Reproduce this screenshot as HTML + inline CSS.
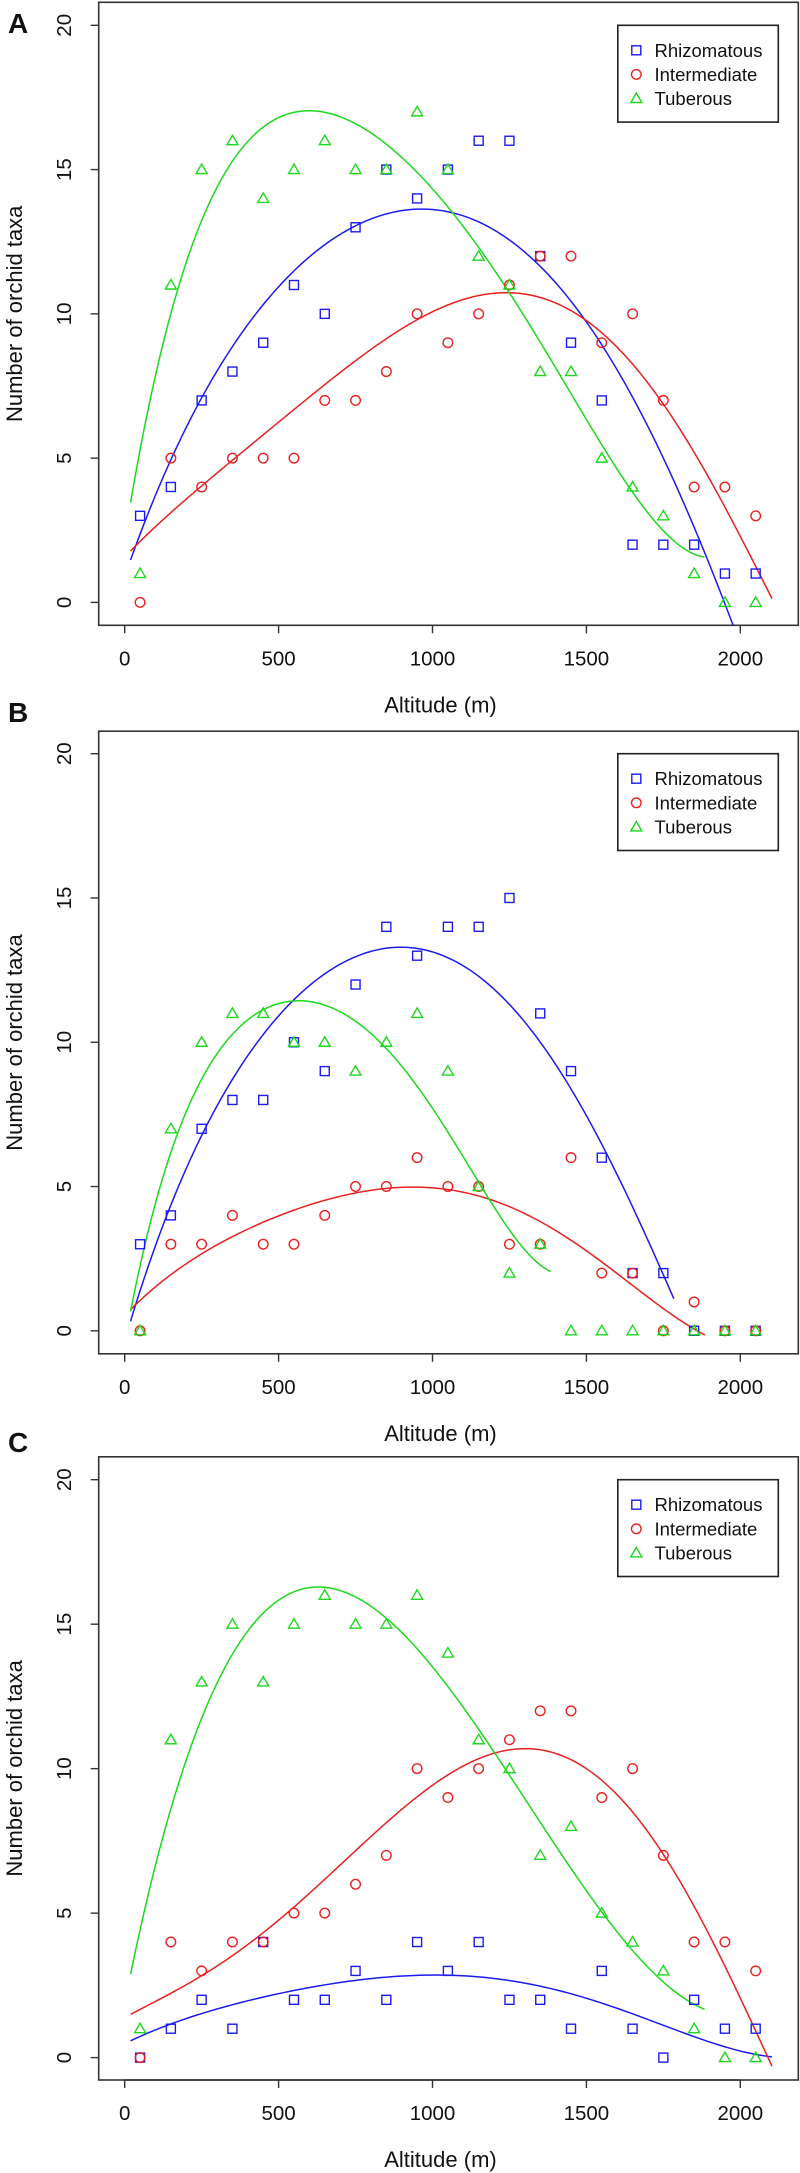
<!DOCTYPE html>
<html><head><meta charset="utf-8">
<style>
html,body{margin:0;padding:0;background:#fff;}
svg{display:block;}
text{font-family:"Liberation Sans",sans-serif;fill:#111;}
</style></head>
<body>
<svg id="fig" width="800" height="2173" viewBox="0 0 800 2173" xmlns="http://www.w3.org/2000/svg"></svg>
<script>
// ---------- data ----------
const altitudes = [50,150,250,350,450,550,650,750,850,950,1050,1150,1250,1350,1450,1550,1650,1750,1850,1950,2050];
const xTicks = [0,500,1000,1500,2000];
const yTicks = [0,5,10,15,20];
const seriesNames = ["Rhizomatous","Intermediate","Tuberous"];

const aRhiz  = [3,4,7,8,9,11,10,13,15,14,15,16,16,12,9,7,2,2,2,1,1];
const aInter = [0,5,4,5,5,5,7,7,8,10,9,10,11,12,12,9,10,7,4,4,3];
const aTub   = [1,11,15,16,14,15,16,15,15,17,15,12,11,8,8,5,4,3,1,0,0];

const bRhiz  = [3,4,7,8,8,10,9,12,14,13,14,14,15,11,9,6,2,2,0,0,0];
const bInter = [0,3,3,4,3,3,4,5,5,6,5,5,3,3,6,2,2,0,1,0,0];
const bTub   = [0,7,10,11,11,10,10,9,10,11,9,5,2,3,0,0,0,0,0,0,0];

const cRhiz  = [0,1,2,1,4,2,2,3,2,4,3,4,2,2,1,3,1,0,2,1,1];
const cInter = [0,4,3,4,4,5,5,6,7,10,9,10,11,12,12,9,10,7,4,4,3];
const cTub   = [1,11,13,15,13,15,16,15,15,16,14,11,10,7,8,5,4,3,1,0,0];

// fitted curve samples (altitude, value)
const aRhizFitX = [19,152,249,346,455,563,671,780,888,953,1024,1242,1351,1449,1552,1650,1754,1852,1982];
const aRhizFitY = [1.46,5.01,7.03,8.91,10.3,11.62,12.53,13.22,13.57,13.64,13.57,12.67,11.69,10.3,8.91,7.10,5.01,2.51,-0.95];
const aInterFitX = [19,152,249,346,455,563,671,780,888,1024,1133,1297,1449,1569,1677,1786,1895,2004,2103];
const aInterFitY = [1.92,2.92,3.97,4.87,5.85,6.89,7.93,8.77,9.47,9.81,10.37,10.62,10.3,9.33,8.07,6.40,4.18,1.81,0.42];
const aTubFitX = [19,76,152,238,346,455,563,671,780,888,996,1150,1250,1351,1449,1552,1650,1754,1884];
const aTubFitY = [3.17,6.82,10.44,13.08,15.03,16.29,16.77,16.91,16.57,15.73,14.62,12.04,11.0,8.91,6.96,5.08,4.03,2.92,1.32];

const bRhizFitX = [19,152,249,346,455,563,671,780,910,1024,1133,1242,1351,1449,1552,1656,1784];
const bRhizFitY = [0.39,4.26,6.77,8.71,10.45,11.57,12.47,13.03,13.28,13.1,12.47,11.36,9.83,8.6,6.49,3.98,1.17];
const bInterFitX = [19,152,249,346,455,563,671,780,910,1024,1133,1242,1351,1449,1552,1656,1765,1885];
const bInterFitY = [0.78,1.89,2.59,3.29,3.84,4.26,4.61,4.85,4.93,4.85,4.68,4.33,3.84,3.22,2.45,1.48,0.5,-0.06];
const bTubFitX = [19,152,249,346,455,563,671,780,888,996,1050,1150,1242,1384];
const bTubFitY = [0.64,6.35,8.71,10.11,11.08,11.57,11.22,10.52,9.27,7.74,6.9,5.1,3.7,2.03];

const cRhizFitX = [19,152,249,346,455,563,671,780,888,1024,1133,1242,1351,1460,1569,1677,1786,1895,2103];
const cRhizFitY = [0.6,1.15,1.5,1.81,2.13,2.36,2.59,2.72,2.79,2.82,2.79,2.68,2.47,2.2,1.85,1.43,0.95,0.53,0.04];
const cInterFitX = [19,152,249,346,455,563,671,780,888,1024,1133,1242,1351,1460,1569,1677,1786,1895,2005,2103];
const cInterFitY = [1.61,2.13,2.68,3.45,4.42,5.46,6.5,7.55,8.59,9.35,10.12,10.47,10.6,10.33,9.56,8.45,6.64,4.0,1.5,0.04];
const cTubFitX = [19,76,152,249,346,455,563,682,780,888,1024,1150,1250,1351,1449,1552,1650,1754,1884];
const cTubFitY = [2.64,5.67,9.15,11.79,13.73,15.12,16.03,16.26,15.89,14.98,13.52,11.09,9.98,7.89,6.23,5.05,3.93,2.75,1.53];

// ---------- layout ----------
const NS = "http://www.w3.org/2000/svg";
const svg = document.getElementById('fig');
const COLORS = ["#1b1bf0","#e82020","#1ed81e"];
const X0PX = 124.7, X2000PX = 740.3, BOXL = 98.7, BOXR = 798.3;
function xScale(a){ return X0PX + (X2000PX - X0PX) * a / 2000; }

const panels = [
  {id:"a", letter:"A", top:2.3, bottom:625.3, y0:602.4, y20:25.3, letterY:33,
   series:[aRhiz,aInter,aTub], fits:[[aRhizFitX,aRhizFitY],[aInterFitX,aInterFitY],[aTubFitX,aTubFitY]]},
  {id:"b", letter:"B", top:731.2, bottom:1353.8, y0:1330.8, y20:753.7, letterY:722,
   series:[bRhiz,bInter,bTub], fits:[[bRhizFitX,bRhizFitY],[bInterFitX,bInterFitY],[bTubFitX,bTubFitY]]},
  {id:"c", letter:"C", top:1456.8, bottom:2080, y0:2057.6, y20:1479.7, letterY:1452,
   series:[cRhiz,cInter,cTub], fits:[[cRhizFitX,cRhizFitY],[cInterFitX,cInterFitY],[cTubFitX,cTubFitY]]}
];

function mk(tag, attrs, parent){
  const e = document.createElementNS(NS, tag);
  for (const k in attrs) e.setAttribute(k, attrs[k]);
  (parent||svg).appendChild(e);
  return e;
}

function marker(g, kind, cx, cy, color){
  let e;
  if (kind === 0){
    e = mk('rect',{x:cx-4.5,y:cy-4.5,width:9,height:9,fill:'none',stroke:color,'stroke-width':1.4},g);
  } else if (kind === 1){
    e = mk('circle',{cx:cx,cy:cy,r:4.8,fill:'none',stroke:color,'stroke-width':1.4},g);
  } else {
    e = mk('polygon',{points:(cx-5.5)+','+(cy+4)+' '+cx+','+(cy-5.5)+' '+(cx+5.5)+','+(cy+4),fill:'none',stroke:color,'stroke-width':1.4},g);
  }
  return e;
}

// least-squares polynomial fit (smooths the read samples)
function polyfit(xs, ys, deg){
  const n = deg + 1;
  const A = [];
  for (let i = 0; i < n; i++){ A.push(new Array(n + 1).fill(0)); }
  for (let k = 0; k < xs.length; k++){
    const x = xs[k] / 1000;
    const pw = [];
    for (let i = 0; i < 2 * n; i++) pw.push(Math.pow(x, i));
    for (let i = 0; i < n; i++){
      for (let j = 0; j < n; j++) A[i][j] += pw[i + j];
      A[i][n] += ys[k] * pw[i];
    }
  }
  for (let c = 0; c < n; c++){
    let p = c;
    for (let r = c + 1; r < n; r++) if (Math.abs(A[r][c]) > Math.abs(A[p][c])) p = r;
    const t = A[c]; A[c] = A[p]; A[p] = t;
    for (let r = 0; r < n; r++){
      if (r === c) continue;
      const f = A[r][c] / A[c][c];
      for (let j = c; j <= n; j++) A[r][j] -= f * A[c][j];
    }
  }
  const coef = [];
  for (let i = 0; i < n; i++) coef.push(A[i][n] / A[i][i]);
  return function(a){
    const x = a / 1000; let s = 0;
    for (let i = n - 1; i >= 0; i--) s = s * x + coef[i];
    return s;
  };
}

panels.forEach(function(p){
  const yScale = function(v){ return p.y0 + (p.y20 - p.y0) * v / 20; };
  const g = mk('g',{});
  
  

  const clipId = 'clip-' + p.id;
  const cp = mk('clipPath',{id:clipId},g);
  mk('rect',{x:BOXL,y:p.top,width:BOXR-BOXL,height:p.bottom-p.top},cp);

  const lt = mk('text',{x:8,y:p.letterY,'font-size':28,'font-weight':'bold'},g);
  lt.textContent = p.letter;
  
  

  const box = mk('rect',{x:BOXL,y:p.top,width:BOXR-BOXL,height:p.bottom-p.top,fill:'none',stroke:'#333','stroke-width':1.6},g);
  
  

  const xa = mk('g',{},g);
  
  
  mk('line',{x1:xScale(xTicks[0]),x2:xScale(xTicks[xTicks.length-1]),y1:p.bottom,y2:p.bottom,stroke:'#333','stroke-width':1.4},xa);
  xTicks.forEach(function(t){
    const x = xScale(t);
    mk('line',{x1:x,x2:x,y1:p.bottom,y2:p.bottom+8,stroke:'#333','stroke-width':1.4},xa);
    const tx = mk('text',{x:x,y:p.bottom+40,'font-size':20.5,'text-anchor':'middle'},xa);
    tx.textContent = String(t);
    
    
  });
  const xt = mk('text',{x:(X0PX+X2000PX)/2 + 8,y:p.bottom+87,'font-size':22,'text-anchor':'middle'},g);
  xt.textContent = 'Altitude (m)';
  
  

  const ya = mk('g',{},g);
  
  
  mk('line',{x1:BOXL,x2:BOXL,y1:yScale(yTicks[0]),y2:yScale(yTicks[yTicks.length-1]),stroke:'#333','stroke-width':1.4},ya);
  yTicks.forEach(function(t){
    const y = yScale(t);
    mk('line',{x1:BOXL-8,x2:BOXL,y1:y,y2:y,stroke:'#333','stroke-width':1.4},ya);
    const ty = mk('text',{x:0,y:0,'font-size':20.5,'text-anchor':'middle',transform:'translate(71,'+y+') rotate(-90)'},ya);
    ty.textContent = String(t);
    
    
  });
  const yt = mk('text',{x:0,y:0,'font-size':22,'text-anchor':'middle',transform:'translate(22,'+((p.top+p.bottom)/2)+') rotate(-90)'},g);
  yt.textContent = 'Number of orchid taxa';
  
  

  p.fits.forEach(function(f, si){
    const fn = polyfit(f[0], f[1], 5);
    const a0 = f[0][0], a1 = f[0][f[0].length - 1];
    let d = '';
    for (let k = 0; k <= 120; k++){
      const a = a0 + (a1 - a0) * k / 120;
      d += (k ? ' L' : 'M') + xScale(a).toFixed(2) + ',' + yScale(fn(a)).toFixed(2);
    }
    const path = mk('path',{d:d,fill:'none',stroke:COLORS[si],'stroke-width':1.5,'clip-path':'url(#'+clipId+')'},g);
    
    
  });

  p.series.forEach(function(vals, si){
    const sg = mk('g',{},g);
    
    
    vals.forEach(function(v, i){
      const m = marker(sg, si, xScale(altitudes[i]), yScale(v), COLORS[si]);
      
      
    });
  });

  const lg = mk('g',{},g);
  
  
  const ly = p.y20;
  mk('rect',{x:617.8,y:ly,width:160.5,height:96.8,fill:'#fff',stroke:'#222','stroke-width':1.6},lg);
  seriesNames.forEach(function(n, si){
    const ry = ly + 25 + si * 24.1;
    const le = mk('g',{},lg);
    
    
    marker(le, si, 636.3, ry, COLORS[si]);
    const t = mk('text',{x:654.5,y:ry+6.5,'font-size':18.5},le);
    t.textContent = n;
  });
});
</script>
</body></html>
